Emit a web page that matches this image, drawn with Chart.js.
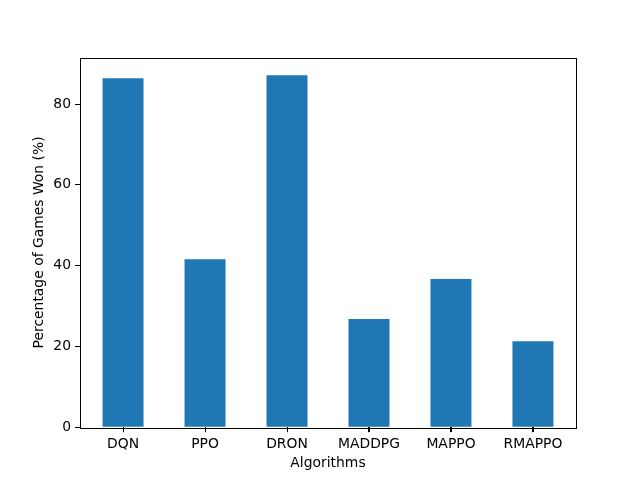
<!DOCTYPE html>
<html>
<head>
<meta charset="utf-8">
<script src="https://cdn.jsdelivr.net/npm/chart.js@4"></script>
<style>
html,body{margin:0;padding:0;background:#fff;}
#wrap{width:640px;height:480px;}
</style>
</head>
<body>
<div id="wrap"><canvas id="c" width="640" height="480"></canvas></div>
<script>
const categories = ["DQN", "PPO", "DRON", "MADDPG", "MAPPO", "RMAPPO"];
const winRates = [86.4, 41.6, 87.1, 26.8, 36.7, 21.3];
const yTicks = [0, 20, 40, 60, 80];

const FONT = {family: "'DejaVu Sans', sans-serif", size: 13.9};

const frame = {
  id: 'frame',
  afterDraw(chart) {
    const a = chart.chartArea, ctx = chart.ctx;
    const xs = chart.scales.x;
    ctx.save();
    ctx.strokeStyle = '#000';
    ctx.lineWidth = 1;
    ctx.strokeRect(Math.round(a.left) + 0.5, Math.round(a.top) + 0.5,
                   Math.round(a.right - a.left), Math.round(a.bottom - a.top));
    // x tick marks at category positions
    ctx.beginPath();
    categories.forEach((_, i) => {
      const px = Math.round(xs.getPixelForValue(i)) + 0.5;
      ctx.moveTo(px, Math.round(a.bottom));
      ctx.lineTo(px, Math.round(a.bottom) + 5);
    });
    ctx.stroke();
    ctx.restore();
  }
};

new Chart(document.getElementById('c'), {
  type: 'bar',
  data: {
    datasets: [{
      data: categories.map((c, i) => ({x: i, y: winRates[i]})),
      backgroundColor: '#1f77b4',
      borderWidth: 0,
      inflateAmount: 0,
      barPercentage: 0.5,
      categoryPercentage: 1.0
    }]
  },
  options: {
    responsive: false,
    animation: false,
    devicePixelRatio: 1,
    layout: {padding: {left: 0, top: 57.6, right: 64, bottom: 0}},
    plugins: {legend: {display: false}, tooltip: {enabled: false}},
    scales: {
      x: {
        type: 'linear',
        min: -0.525, max: 5.525,
        offset: false,
        afterBuildTicks(scale) { scale.ticks = categories.map((_, i) => ({value: i})); },
        afterFit(scale) { scale.height = 52.8; },
        grid: {offset: false, drawOnChartArea: false, drawTicks: true, tickLength: 5, color: '#000', tickColor: '#000'},
        border: {display: false},
        ticks: {
          color: '#000', font: FONT, padding: 4, maxRotation: 0, autoSkip: false,
          callback: (v) => categories[v]
        },
        title: {display: true, text: 'Algorithms', color: '#000', font: FONT, padding: {top: 0, bottom: 8}}
      },
      y: {
        type: 'linear',
        min: 0, max: 91.5,
        afterBuildTicks(scale) { scale.ticks = yTicks.map(v => ({value: v})); },
        afterFit(scale) { scale.width = 80; },
        grid: {drawOnChartArea: false, drawTicks: true, tickLength: 5, color: '#000', tickColor: '#000'},
        border: {display: false},
        ticks: {color: '#000', font: FONT, padding: 4},
        title: {display: true, text: 'Percentage of Games Won (%)', color: '#000', font: FONT, padding: {top: 31, bottom: 0}}
      }
    }
  },
  plugins: [frame]
});
</script>
</body>
</html>
